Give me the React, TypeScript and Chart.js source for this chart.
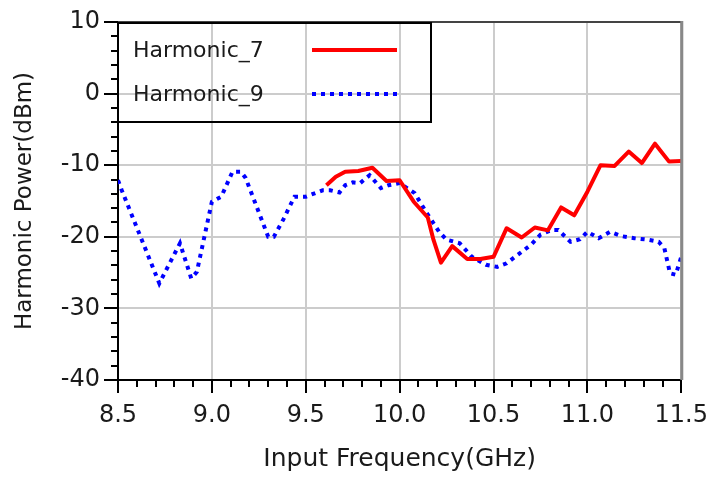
import React, { useEffect, useRef } from "react";
import { Chart, registerables } from "chart.js";

Chart.register(...registerables);

const seriesLabels = ["Harmonic_7", "Harmonic_9"];

const harmonic7Freq = [9.61, 9.66, 9.71, 9.78, 9.855, 9.93, 10.0, 10.075, 10.15, 10.18, 10.22, 10.28, 10.36, 10.43, 10.5, 10.57, 10.65, 10.72, 10.79, 10.86, 10.93, 11.0, 11.07, 11.145, 11.22, 11.29, 11.36, 11.435, 11.5];
const harmonic7Power = [-12.8, -11.6, -10.9, -10.8, -10.35, -12.2, -12.1, -15.1, -17.3, -20.4, -23.6, -21.3, -23.1, -23.1, -22.8, -18.8, -20.1, -18.7, -19.1, -15.9, -17.0, -13.7, -10.0, -10.1, -8.1, -9.7, -7.0, -9.5, -9.4];

const harmonic9Freq = [8.5, 8.52, 8.72, 8.83, 8.89, 8.92, 9.0, 9.05, 9.11, 9.155, 9.18, 9.3, 9.33, 9.38, 9.44, 9.5, 9.59, 9.63, 9.68, 9.71, 9.75, 9.79, 9.84, 9.9, 9.94, 10.0, 10.08, 10.14, 10.21, 10.25, 10.32, 10.385, 10.46, 10.52, 10.57, 10.63, 10.7, 10.75, 10.81, 10.845, 10.91, 10.96, 11.0, 11.06, 11.12, 11.18, 11.25, 11.32, 11.38, 11.41, 11.44, 11.47, 11.5];
const harmonic9Power = [-12.1, -13.5, -26.5, -20.9, -25.8, -24.9, -15.1, -14.4, -10.9, -10.9, -11.8, -20.0, -20.0, -17.6, -14.4, -14.4, -13.5, -13.5, -13.8, -12.8, -12.4, -12.5, -11.4, -13.2, -12.8, -12.5, -13.9, -16.5, -19.3, -20.4, -20.9, -22.8, -23.9, -24.2, -23.7, -22.5, -21.1, -19.7, -19.05, -19.05, -20.7, -20.35, -19.3, -20.2, -19.3, -19.9, -20.2, -20.4, -20.7, -21.6, -25.1, -25.3, -22.8];

const xMin = 8.5;
const xMax = 11.5;
const xStep = 0.5;
const xMinorStep = 0.1;
const yMin = -40;
const yMax = 10;
const yStep = 10;
const yMinorStep = 2;

const xTitle = "Input Frequency(GHz)";
const yTitle = "Harmonic Power(dBm)";

const FONT = "'DejaVu Sans', sans-serif";

const decorPlugin = {
  id: "decor",
  afterDatasetsDraw(chart: any) {
    const { ctx, chartArea, scales } = chart;
    const xs = scales.x;
    const ys = scales.y;
    const { left, right, top, bottom } = chartArea;
    ctx.save();
    // minor ticks
    ctx.strokeStyle = "#000";
    ctx.lineWidth = 2;
    ctx.beginPath();
    const nx = Math.round((xMax - xMin) / xMinorStep);
    for (let i = 0; i <= nx; i++) {
      if (i % 5 === 0) continue;
      const v = xMin + i * xMinorStep;
      const px = Math.round(xs.getPixelForValue(v));
      ctx.moveTo(px, bottom);
      ctx.lineTo(px, bottom + 7);
    }
    const ny = Math.round((yMax - yMin) / yMinorStep);
    for (let i = 0; i <= ny; i++) {
      if (i % 5 === 0) continue;
      const v = yMin + i * yMinorStep;
      const py = Math.round(ys.getPixelForValue(v));
      ctx.moveTo(left - 7, py);
      ctx.lineTo(left, py);
    }
    ctx.stroke();
    // top border
    ctx.strokeStyle = "#444";
    ctx.lineWidth = 2;
    ctx.beginPath();
    ctx.moveTo(left, top);
    ctx.lineTo(right, top);
    ctx.stroke();
    // right border
    ctx.strokeStyle = "#888";
    ctx.lineWidth = 3;
    ctx.beginPath();
    ctx.moveTo(right + 0.5, top - 1);
    ctx.lineTo(right + 0.5, bottom);
    ctx.stroke();

    // legend
    const boxL = left;
    const boxT = top + 1;
    const boxW = 313;
    const boxH = 99;
    ctx.strokeStyle = "#000";
    ctx.lineWidth = 2;
    ctx.strokeRect(boxL, boxT, boxW, boxH);
    ctx.font = `22px ${FONT}`;
    ctx.fillStyle = "#1a1a1a";
    ctx.textBaseline = "middle";
    ctx.textAlign = "left";
    const rows = [top + 28, top + 72];
    chart.data.datasets.forEach((ds: any, i: number) => {
      const y = rows[i];
      ctx.fillText(ds.label, left + 15, y + 1);
      ctx.save();
      ctx.strokeStyle = ds.borderColor;
      ctx.lineWidth = ds.borderWidth;
      ctx.setLineDash(ds.borderDash || []);
      ctx.lineCap = "butt";
      ctx.beginPath();
      ctx.moveTo(left + 194, y);
      ctx.lineTo(left + 279, y);
      ctx.stroke();
      ctx.restore();
    });
    ctx.restore();
  },
};

export default function App() {
  const canvasRef = useRef<HTMLCanvasElement | null>(null);

  useEffect(() => {
    if (!canvasRef.current) return;
    const chart = new Chart(canvasRef.current, {
      type: "line",
      data: {
        datasets: [
          {
            label: seriesLabels[0],
            data: harmonic7Freq.map((f, i) => ({ x: f, y: harmonic7Power[i] })),
            borderColor: "#ff0000",
            backgroundColor: "#ff0000",
            borderWidth: 4,
            pointRadius: 0,
            tension: 0,
            borderJoinStyle: "round",
            fill: false,
          },
          {
            label: seriesLabels[1],
            data: harmonic9Freq.map((f, i) => ({ x: f, y: harmonic9Power[i] })),
            borderColor: "#0000ff",
            backgroundColor: "#0000ff",
            borderWidth: 4,
            borderDash: [4, 5],
            pointRadius: 0,
            tension: 0,
            fill: false,
          },
        ],
      },
      options: {
        responsive: false,
        animation: false,
        devicePixelRatio: 1,
        layout: { padding: { top: 22, right: 32, left: 0, bottom: 0 } },
        plugins: {
          legend: { display: false },
          tooltip: { enabled: false },
        },
        scales: {
          x: {
            type: "linear",
            min: xMin,
            max: xMax,
            afterFit(scale: any) {
              scale.height = 97;
            },
            ticks: {
              stepSize: xStep,
              callback: (v: any) => Number(v).toFixed(1),
              font: { family: FONT, size: 24 },
              color: "#1a1a1a",
              padding: 8,
              maxRotation: 0,
              autoSkip: false,
            },
            grid: {
              color: "#cccccc",
              lineWidth: 2,
              tickColor: "#000",
              tickLength: 13,
              tickWidth: 2,
            },
            border: { display: true, color: "#000", width: 2 },
            title: {
              display: true,
              text: xTitle,
              font: { family: FONT, size: 25 },
              color: "#1a1a1a",
              padding: { top: 0, bottom: 3 },
            },
          },
          y: {
            type: "linear",
            min: yMin,
            max: yMax,
            afterFit(scale: any) {
              scale.width = 118;
            },
            ticks: {
              stepSize: yStep,
              font: { family: FONT, size: 24 },
              color: "#1a1a1a",
              padding: 4,
            },
            grid: {
              color: "#cccccc",
              lineWidth: 2,
              tickColor: "#000",
              tickLength: 14,
              tickWidth: 2,
            },
            border: { display: true, color: "#000", width: 2 },
            title: {
              display: true,
              text: yTitle,
              font: { family: FONT, size: 23 },
              color: "#1a1a1a",
              padding: { top: 11, bottom: 0 },
            },
          },
        },
      },
      plugins: [decorPlugin],
    } as any);
    return () => chart.destroy();
  }, []);

  return (
    <div style={{ position: "fixed", left: 0, top: 0, width: 716, height: 477, background: "#fff" }}>
      <canvas ref={canvasRef} width={716} height={477} style={{ width: 716, height: 477, display: "block" }} />
    </div>
  );
}
